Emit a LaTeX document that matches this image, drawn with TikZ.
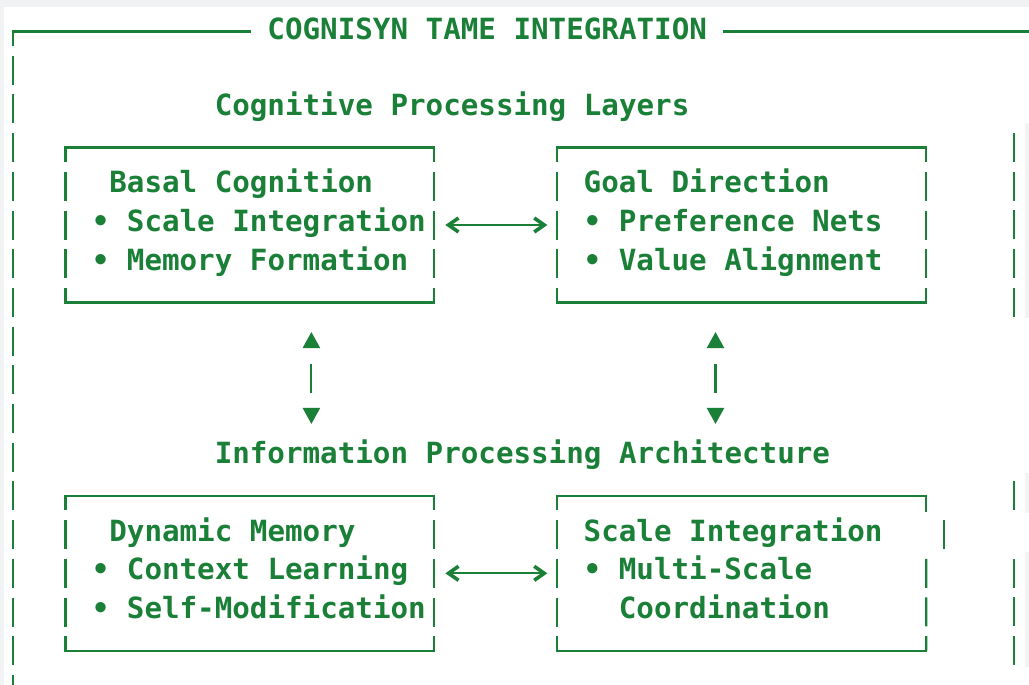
\documentclass[tikz,border=0pt]{standalone}
\usepackage{fontspec}
\usepackage{xcolor}
\usepackage{tikz}
\usetikzlibrary{arrows.meta}
\newfontfamily\asciifont{DejaVu Sans Mono}
\definecolor{termgreen}{HTML}{1A7F37}
\definecolor{pagegray}{HTML}{F1F2F4}
\definecolor{linegray}{HTML}{F3F3F3}
\tikzstyle{txt} = [anchor=base west, inner sep=0pt, outer sep=0pt, align=left, text=termgreen, font=\asciifont\bfseries\fontsize{29.2pt}{38.7pt}\selectfont, yshift=-6.5pt]
\tikzstyle{box} = [rectangle, minimum width=368.97pt, minimum height=154.8pt, inner sep=0pt, outer sep=0pt]
\tikzstyle{hrule} = [termgreen, line width=2.2pt, line cap=rect]
\tikzstyle{vrule} = [termgreen, line width=2.2pt, dash pattern=on 29pt off 9.7pt, dash phase=14.5pt]
\tikzstyle{vbar} = [termgreen, line width=2.2pt, dash pattern=on 29pt off 9.7pt]
\tikzstyle{hlink} = [termgreen, line width=2.2pt, <->, >={Straight Barb[length=10pt,width=14pt,line width=3.6pt]}, shorten <=11pt, shorten >=10pt]
\tikzstyle{vlink} = [termgreen, line width=2.2pt, <->, >={Triangle[length=16pt,width=17pt]}, dash pattern=on 29pt off 31pt, dash phase=43pt]
\begin{document}
\begin{tikzpicture}[x=17.57pt, y=-38.7pt]

% page and panel
\useasboundingbox (-12.7pt,31.5pt) rectangle (1016.3pt,-653.5pt);
\fill[pagegray] (-12.7pt,31.5pt) rectangle (1016.3pt,-653.5pt);
\fill[white] (-8.7pt,24pt) rectangle (1016.3pt,-653.5pt);
\fill[linegray] (1012.3pt,-91.5pt) rectangle (1016.3pt,-286pt);
\fill[linegray] (1012.3pt,-441.5pt) rectangle (1016.3pt,-481pt);
\fill[linegray] (1012.3pt,-520.5pt) rectangle (1016.3pt,-635.5pt);

% outer frame
\node[txt, yshift=-1.5pt] (title) at (14.5,0) {COGNISYN TAME INTEGRATION};
\draw[hrule] (0,0) -- (13.5,0);
\draw[hrule] (40.5,0) -- (59,0);
\draw[vrule] (0,0) -- (0,18);
\draw[vbar] (57,2.625) -- (57,7.375);
\draw[vbar] (57,11.625) -- (57,12.375);
\draw[vbar] (57,13.625) -- (57,16.375);

% headings
\node[txt] (layers) at (11.5,2) {Cognitive Processing Layers};
\node[txt] (arch) at (11.5,11) {Information Processing Architecture};

% boxes
\node[box] (basal) at (13.5,5) {};
\node[box] (goal) at (41.5,5) {};
\node[box] (memory) at (13.5,14) {};
\node[box] (scale) at (41.5,14) {};

% box texts (base = last line)
\node[txt] (basal-txt) at (4.5,6) {\hphantom{x}Basal Cognition\\• Scale Integration\\• Memory Formation};
\node[txt] (goal-txt) at (32.5,6) {Goal Direction\\• Preference Nets\\• Value Alignment};
\node[txt] (memory-txt) at (4.5,15) {\hphantom{x}Dynamic Memory\\• Context Learning\\• Self-Modification};
\node[txt] (scale-txt) at (32.5,15) {Scale Integration\\• Multi-Scale\\\hphantom{xx}Coordination};

\foreach \b in {basal, goal, memory} {
  \draw[hrule] (\b.north west) -- (\b.north east);
  \draw[hrule] (\b.south west) -- (\b.south east);
  \draw[vrule] (\b.north west) -- (\b.south west);
  \draw[vrule] (\b.north east) -- (\b.south east);
}
\draw[hrule] (scale.north west) -- (scale.north east);
\draw[hrule] (scale.south west) -- (scale.south east);
\draw[vrule] (scale.north west) -- (scale.south west);
\draw[hrule] (scale.north east) -- ++(0,0.375);
\draw[vbar] (53,12.625) -- (53,13.375);
\draw[vbar] (52,13.625) -- (scale.south east);

% links
\draw[hlink] (basal) -- (goal);
\draw[hlink] (memory) -- (scale);

\coordinate (up-l) at (17,7.765);
\coordinate (dn-l) at (17,10.142);
\coordinate (up-r) at (40,7.765);
\coordinate (dn-r) at (40,10.142);
\draw[vlink] (up-l) -- (dn-l);
\draw[vlink] (up-r) -- (dn-r);

\end{tikzpicture}
\end{document}
